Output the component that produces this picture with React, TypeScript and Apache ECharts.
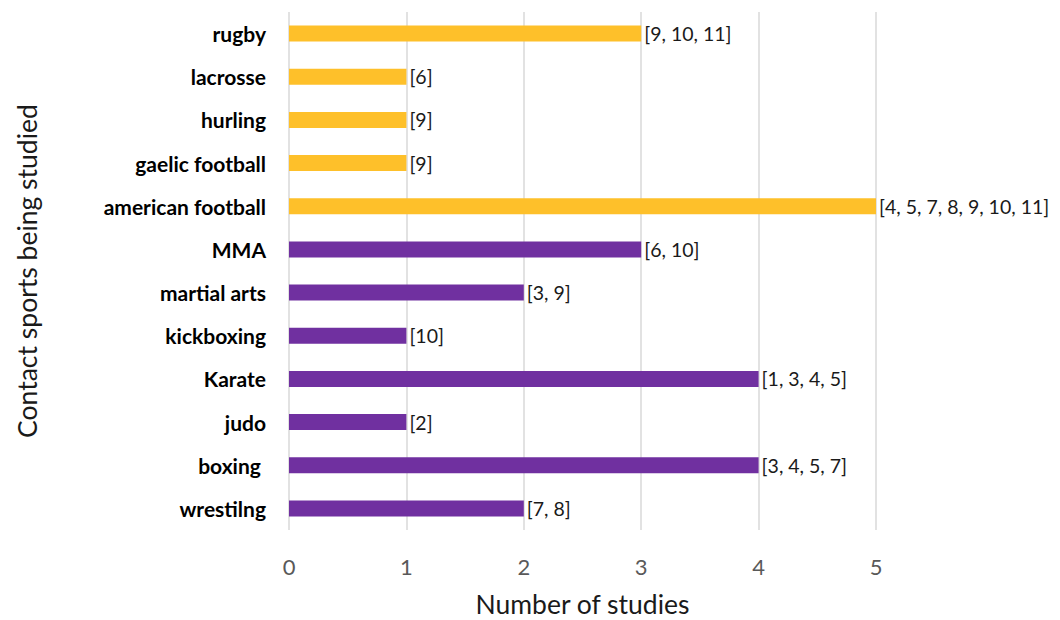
import React, { useEffect, useRef } from "react";
import * as echarts from "echarts";

const categories = [
  "wrestilng",
  "boxing ",
  "judo",
  "Karate",
  "kickboxing",
  "martial arts",
  "MMA",
  "american football",
  "gaelic football",
  "hurling",
  "lacrosse",
  "rugby",
];
const values = [2, 4, 1, 4, 1, 2, 3, 5, 1, 1, 1, 3];
const refs = [
  "[7, 8]",
  "[3, 4, 5, 7]",
  "[2]",
  "[1, 3, 4, 5]",
  "[10]",
  "[3, 9]",
  "[6, 10]",
  "[4, 5, 7, 8, 9, 10, 11]",
  "[9]",
  "[9]",
  "[6]",
  "[9, 10, 11]",
];
const groups = ["combat", "combat", "combat", "combat", "combat", "combat", "combat", "team", "team", "team", "team", "team"];
const xTicks = [0, 1, 2, 3, 4, 5];

const PURPLE = "#7030A0";
const YELLOW = "#FEC02A";
const FONT = "Lato, 'Open Sans', sans-serif";

export default function App() {
  const ref = useRef<HTMLDivElement>(null);
  useEffect(() => {
    document.body.style.margin = "0";
    if (!ref.current) return;
    const chart = echarts.init(ref.current, null, { renderer: "svg" });
    chart.setOption({
      animation: false,
      textStyle: { fontFamily: FONT },
      grid: {
        left: 289,
        right: 184,
        top: 12,
        bottom: 90,
        containLabel: false,
        outerBoundsMode: "none",
      },
      xAxis: {
        type: "value",
        min: xTicks[0],
        max: xTicks[xTicks.length - 1],
        interval: 1,
        name: "Number of studies",
        nameLocation: "middle",
        nameGap: 60,
        nameTextStyle: { fontSize: 26.5, color: "#1a1a1a", fontFamily: FONT },
        axisLine: { show: false },
        axisTick: { show: false },
        axisLabel: { fontSize: 22, color: "#595959", margin: 25, fontFamily: FONT },
        splitLine: { show: true, lineStyle: { color: "#d9d9d9", width: 1.5 } },
      },
      yAxis: {
        type: "category",
        data: categories,
        name: "Contact sports being studied",
        nameLocation: "middle",
        nameGap: 249,
        nameRotate: 90,
        nameTextStyle: { fontSize: 26.5, color: "#1a1a1a", fontFamily: FONT },
        axisLine: { show: false },
        axisTick: { show: false },
        axisLabel: { fontSize: 21, fontWeight: "bold", color: "#000", margin: 23, fontFamily: FONT },
        splitLine: { show: false },
      },
      series: [
        {
          type: "bar",
          barWidth: 16,
          data: values.map((v, i) => ({
            value: v,
            itemStyle: { color: groups[i] === "team" ? YELLOW : PURPLE },
          })),
          label: {
            show: true,
            position: "right",
            distance: 3,
            fontSize: 19.5,
            color: "#1a1a1a",
            fontFamily: FONT,
            formatter: (p: any) => refs[p.dataIndex],
          },
        },
      ],
    });
    return () => chart.dispose();
  }, []);
  return <div ref={ref} style={{ width: 1060, height: 620 }} />;
}
